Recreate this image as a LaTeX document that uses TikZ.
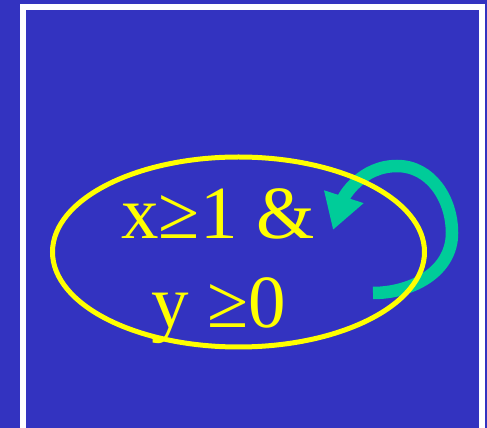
\documentclass[tikz,border=0pt]{standalone}
\usepackage{fontspec}
\setmainfont{Liberation Serif}
\usetikzlibrary{shapes.geometric,arrows.meta}
\definecolor{slideblue}{RGB}{51,51,192}
\definecolor{loopgreen}{RGB}{0,204,153}
\definecolor{guardyellow}{RGB}{255,255,0}
\tikzset{
  state/.style = {ellipse, draw=guardyellow, line width=5pt,
    minimum width=372pt, minimum height=190pt, inner sep=0pt},
  guard/.style = {text=guardyellow, font=\fontsize{75}{89}\selectfont,
    anchor=base, inner sep=0pt},
  selfloop/.style = {draw=loopgreen, line width=12.5pt,
    -{Triangle[length=35pt,width=39pt]}},
  frame/.style = {draw=white, line width=6pt}
}

\begin{document}
\begin{tikzpicture}[x=1pt, y=1pt]
\useasboundingbox (0,0) rectangle (487,428);
\fill[slideblue] (0,0) rectangle (487,428);
\draw[frame] (23,-10) |- (482,420.5) -- (482,-10);

% loop drawn first, the ellipse lies over it
\coordinate (loopout) at (373,135);
\coordinate (loopin) at (333,198);
\draw[selfloop] (loopout) to[out=0,in=-90] (452,195)
  to[out=90,in=0] (397,262) to[out=180,in=72] (loopin);

\node[state] (cond) at (238.5,176) {};
\node[guard] (condx) at (218,189) {x≥1 \&};
\node[guard] (condy) at (219,100) {y ≥0};

\end{tikzpicture}
\end{document}
